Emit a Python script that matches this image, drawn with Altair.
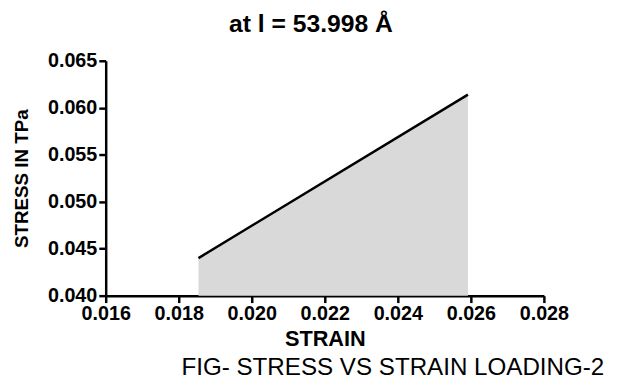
import altair as alt
import pandas as pd

strain = [0.01854, 0.02592]
stress = [0.0440, 0.0614]
baseline = [0.040, 0.040]

x_ticks = [0.016, 0.018, 0.020, 0.022, 0.024, 0.026, 0.028]
y_ticks = [0.040, 0.045, 0.050, 0.055, 0.060, 0.065]

title_text = "at l = 53.998 Å"
caption_text = "FIG- STRESS VS STRAIN LOADING-2"

df = pd.DataFrame({"strain": strain, "stress": stress, "base": baseline})

FONT = "Liberation Sans"

x_enc = alt.X(
    "strain:Q",
    scale=alt.Scale(domain=[0.016, 0.028], nice=False, zero=False),
    axis=alt.Axis(
        values=x_ticks, format=".3f", title="STRAIN",
        grid=False, domainColor="black", domainWidth=2.5, tickColor="black",
        tickWidth=2.5, tickSize=7, labelFont=FONT, labelFontWeight="bold",
        labelFontSize=20, labelColor="black", labelPadding=1,
        labelOverlap=False, labelFlush=False,
        titleFont=FONT, titleFontWeight="bold", titleFontSize=22,
        titleColor="black", titlePadding=5,
    ),
)
y_scale = alt.Scale(domain=[0.040, 0.065], nice=False, zero=False)
y_axis = alt.Axis(
    values=y_ticks, format=".3f", title="STRESS IN TPa",
    grid=False, domainColor="black", domainWidth=2.5, tickColor="black",
    tickWidth=2.5, tickSize=7, labelFont=FONT, labelFontWeight="bold",
    labelFontSize=20, labelColor="black", labelPadding=2,
    labelOverlap=False, labelFlush=False,
    titleFont=FONT, titleFontWeight="bold", titleFontSize=19,
    titleColor="black", titlePadding=16,
)

base = alt.Chart(df)

area = base.mark_area(color="#d9d9d9", opacity=1).encode(
    x=x_enc,
    y=alt.Y("stress:Q", scale=y_scale, axis=y_axis),
    y2="base:Q",
)

line = base.mark_line(color="black", strokeWidth=2.5).encode(
    x=alt.X("strain:Q"),
    y=alt.Y("stress:Q"),
)

caption = alt.Chart(pd.DataFrame({"t": [caption_text]})).mark_text(
    font=FONT, fontSize=24.5, color="black", align="center", baseline="middle"
).encode(
    text="t:N",
    x=alt.value(291),
    y=alt.value(311),
)

chart = (
    alt.layer(area, line, caption)
    .properties(
        width=444,
        height=238,
        background="white",
        title=alt.TitleParams(
            text=title_text, font=FONT, fontWeight="bold", fontSize=25,
            color="black", anchor="middle", offset=14, dx=-14,
        ),
        autosize=alt.AutoSizeParams(type="none"),
        padding={"left": 99, "top": 51, "right": 68, "bottom": 86},
    )
    .configure_view(strokeWidth=0, stroke=None)
)

chart.save("out.html", embed_options={"renderer": "svg", "actions": False})
